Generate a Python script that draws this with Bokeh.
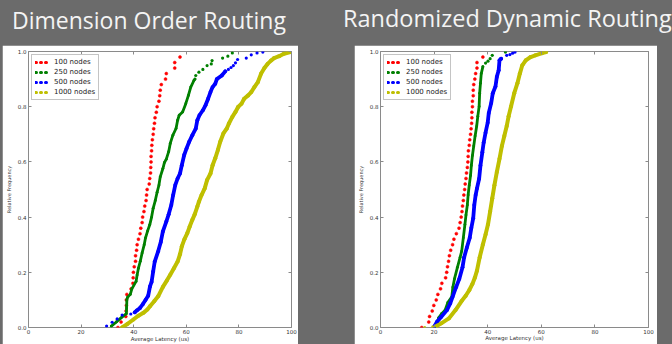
from bokeh.plotting import figure
from bokeh.models import (Range1d, FixedTicker, PrintfTickFormatter, LinearAxis,
                          Legend, LegendItem, Div, Spacer)
from bokeh.layouts import row, column
from bokeh.embed import file_html
from bokeh.resources import INLINE

# ---------------- data ----------------
TITLE_LEFT = "Dimension Order Routing"
TITLE_RIGHT = "Randomized Dynamic Routing"
SERIES = ["100 nodes", "250 nodes", "500 nodes", "1000 nodes"]
COLORS = ["#ff0000", "#008000", "#0000ff", "#bfbf00"]
X_TICKS = [0, 20, 40, 60, 80, 100]
Y_TICKS = [0.0, 0.2, 0.4, 0.6, 0.8, 1.0]
X_LABEL = "Average Latency (us)"
Y_LABEL = "Relative Frequency"

# Dimension Order Routing
dor_100_y = [0.00, 0.02, 0.04, 0.06, 0.08, 0.10, 0.12, 0.14, 0.16, 0.18, 0.20, 0.22, 0.24,
             0.26, 0.28, 0.30, 0.32, 0.34, 0.36, 0.38, 0.40, 0.42, 0.44, 0.46, 0.48, 0.50,
             0.52, 0.54, 0.56, 0.58, 0.60, 0.62, 0.64, 0.66, 0.68, 0.70, 0.72, 0.74, 0.76,
             0.78, 0.80, 0.82, 0.84, 0.86, 0.88, 0.90, 0.92, 0.94, 0.96, 0.98]
dor_100_x = [34.0, 35.2, 37.0, 37.1, 37.2, 37.2, 37.4, 39.0, 39.7, 39.8, 39.9, 40.2, 40.7,
             40.7, 41.1, 41.3, 41.8, 42.4, 42.7, 43.2, 43.4, 43.9, 44.2, 44.7, 44.9, 45.1,
             45.9, 46.1, 46.4, 46.5, 46.6, 46.6, 46.8, 46.9, 47.1, 47.4, 47.6, 47.9, 48.1,
             48.6, 48.9, 49.6, 49.9, 50.1, 50.5, 52.1, 52.4, 55.6, 55.6, 57.6]

dor_250_x = [31.5, 33.4, 35.2, 37.2, 37.3, 37.4, 37.7, 38.7, 39.3, 40.9, 41.3, 41.8, 42.5,
             43.2, 44.0, 44.5, 45.3, 46.1, 46.8, 47.4, 48.2, 48.9, 49.6, 50.1, 51.1, 51.7,
             52.4, 53.3, 53.9, 54.9, 56.1, 56.7, 57.3, 58.6, 59.8, 60.8, 61.7, 62.9, 63.3]
dor_250_y = [0.005, 0.020, 0.035, 0.050, 0.070, 0.100, 0.110, 0.120, 0.140, 0.167, 0.190,
             0.215, 0.240, 0.270, 0.300, 0.325, 0.350, 0.372, 0.400, 0.432, 0.460, 0.490,
             0.516, 0.546, 0.576, 0.598, 0.610, 0.637, 0.667, 0.697, 0.721, 0.751, 0.769,
             0.781, 0.811, 0.841, 0.871, 0.895, 0.900]
dor_250_tail_x = [63.6, 64.8, 66.3, 67.9, 69.5, 69.8, 73.8, 75.8, 77.5]
dor_250_tail_y = [0.913, 0.925, 0.935, 0.949, 0.955, 0.967, 0.976, 0.983, 0.995]

dor_500_x = [40.4, 41.2, 42.4, 43.5, 44.5, 45.5, 46.2, 46.8, 47.4, 48.0, 49.3, 50.3, 51.1,
             52.4, 53.3, 54.3, 55.0, 55.8, 56.7, 57.6, 58.3, 59.2, 60.1, 61.1, 62.3, 63.6,
             64.2, 65.0, 66.3, 67.3, 68.3, 69.2, 70.0, 71.0, 71.6, 73.5, 74.8]
dor_500_y = [0.055, 0.062, 0.071, 0.085, 0.100, 0.115, 0.149, 0.165, 0.203, 0.239, 0.276,
             0.310, 0.348, 0.384, 0.410, 0.444, 0.480, 0.516, 0.540, 0.558, 0.588, 0.625,
             0.649, 0.673, 0.697, 0.721, 0.751, 0.769, 0.787, 0.805, 0.829, 0.853, 0.871,
             0.883, 0.900, 0.913, 0.928]
dor_500_tail_x = [29.7, 31.8, 33.7, 35.6, 38.9, 76.0, 77.0, 77.9, 78.7, 79.5, 82.8, 84.7, 86.9, 89.1]
dor_500_tail_y = [0.005, 0.019, 0.031, 0.045, 0.049, 0.935, 0.942, 0.949, 0.959, 0.971, 0.976,
                  0.988, 0.995, 0.998]

dor_1000_x = [35.6, 37.5, 39.9, 41.8, 43.7, 45.2, 46.2, 47.8, 49.3, 51.1, 52.6, 53.9, 55.3,
              56.7, 57.6, 58.3, 59.3, 60.4, 61.3, 62.3, 63.2, 64.2, 64.8, 65.8, 67.0, 67.9,
              69.2, 70.0, 71.0, 72.0, 72.9, 74.1, 75.4, 76.2, 77.5, 78.7, 79.7, 81.0, 82.0,
              83.5, 84.7, 85.9, 87.2, 88.4, 89.7, 90.9, 92.2, 93.4, 95.3, 97.1, 99.6]
dor_1000_y = [0.000, 0.012, 0.029, 0.043, 0.053, 0.065, 0.077, 0.095, 0.113, 0.147, 0.170,
              0.191, 0.215, 0.239, 0.265, 0.294, 0.320, 0.342, 0.366, 0.390, 0.410, 0.438,
              0.456, 0.480, 0.504, 0.534, 0.558, 0.588, 0.613, 0.643, 0.673, 0.703, 0.721,
              0.739, 0.763, 0.781, 0.799, 0.811, 0.829, 0.841, 0.853, 0.871, 0.889, 0.919,
              0.940, 0.955, 0.967, 0.976, 0.983, 0.992, 0.998]

# Randomized Dynamic Routing
rdr_100_y = [0.00, 0.02, 0.04, 0.06, 0.08, 0.10, 0.12, 0.14, 0.16, 0.18, 0.20, 0.22, 0.24,
             0.26, 0.28, 0.30, 0.32, 0.34, 0.36, 0.38, 0.40, 0.42, 0.44, 0.46, 0.48, 0.50,
             0.52, 0.54, 0.56, 0.58, 0.60, 0.62, 0.64, 0.66, 0.68, 0.70, 0.72, 0.74, 0.76,
             0.78, 0.80, 0.82, 0.84, 0.86, 0.88, 0.90, 0.92, 0.94, 0.96, 0.98]
rdr_100_x = [15.4, 18.0, 18.3, 19.3, 19.9, 20.8, 21.4, 22.4, 22.9, 24.3, 24.7, 25.0, 25.4,
             25.7, 26.2, 26.9, 27.4, 28.3, 29.3, 29.7, 30.1, 30.4, 30.6, 30.9, 31.1, 31.4,
             31.6, 31.9, 32.1, 32.4, 32.6, 32.7, 32.8, 33.1, 33.3, 33.6, 33.8, 34.0, 34.1,
             34.1, 34.3, 34.3, 34.6, 34.6, 34.8, 35.2, 35.5, 36.0, 36.0, 38.2]

rdr_250_x = [20.1, 21.1, 21.7, 22.8, 24.1, 25.1, 26.6, 27.0, 27.6, 28.7, 29.7, 30.3, 30.9,
             31.5, 31.9, 32.4, 32.7, 33.1, 33.6, 33.9, 34.3, 34.8, 35.3, 35.9, 36.3, 36.8,
             37.0, 37.3, 37.6, 38.2]
rdr_250_y = [0.004, 0.015, 0.035, 0.050, 0.063, 0.090, 0.111, 0.146, 0.176, 0.218, 0.254,
             0.277, 0.325, 0.373, 0.408, 0.444, 0.480, 0.515, 0.551, 0.587, 0.623, 0.658,
             0.694, 0.730, 0.765, 0.801, 0.849, 0.885, 0.920, 0.945]
rdr_250_tail_x = [39.2, 40.1, 40.9, 41.7, 46.6]
rdr_250_tail_y = [0.958, 0.965, 0.974, 0.986, 0.998]

rdr_500_x = [20.1, 21.1, 22.7, 24.8, 26.0, 26.9, 28.2, 29.4, 30.6, 31.2, 32.2, 33.3, 33.9,
             34.6, 35.0, 35.5, 36.0, 36.8, 37.3, 38.0, 38.5, 39.2, 40.0, 40.4, 41.3, 41.9,
             42.9, 43.4, 44.1, 44.4, 45.0]
rdr_500_y = [0.004, 0.021, 0.039, 0.063, 0.087, 0.111, 0.146, 0.176, 0.218, 0.254, 0.289,
             0.325, 0.361, 0.396, 0.444, 0.480, 0.504, 0.539, 0.587, 0.635, 0.670, 0.706,
             0.742, 0.777, 0.813, 0.849, 0.873, 0.908, 0.932, 0.968, 0.974]
rdr_500_tail_x = [47.1, 48.3, 49.3, 50.2]
rdr_500_tail_y = [0.986, 0.989, 0.994, 0.998]

rdr_1000_x = [21.1, 22.7, 25.5, 28.0, 30.2, 31.8, 33.1, 34.3, 35.2, 36.0, 37.0, 38.2, 39.2,
              40.1, 40.9, 41.7, 42.5, 43.4, 44.4, 45.3, 46.2, 47.1, 47.8, 48.7, 49.9, 51.1,
              52.0, 52.9, 54.2, 56.0, 57.8, 60.3, 61.8]
rdr_1000_y = [0.006, 0.015, 0.033, 0.063, 0.095, 0.115, 0.135, 0.158, 0.180, 0.206, 0.254,
              0.301, 0.337, 0.373, 0.420, 0.468, 0.515, 0.563, 0.611, 0.658, 0.694, 0.730,
              0.765, 0.801, 0.849, 0.885, 0.920, 0.950, 0.968, 0.980, 0.986, 0.994, 0.998]
rdr_1000_tail_x = [16.5, 19.5]
rdr_1000_tail_y = [0.000, 0.002]

# ---------------- styling ----------------
BG = "#6b6b6b"
SPINE = "#8a8a8a"
TXT = "#333333"
FONT = "DejaVu Sans"
NAN = float("nan")


def make_panel(width, height, borders, bottom_standoffs, data):
    left, right, top, bottom = borders
    p = figure(width=width, height=height, x_range=Range1d(0, 100), y_range=Range1d(0, 1),
               output_backend="svg", toolbar_location=None,
               min_border_left=left, min_border_right=right,
               min_border_top=top, min_border_bottom=bottom)
    p.background_fill_color = "white"
    p.border_fill_color = "white"
    p.outline_line_color = SPINE
    p.outline_line_width = 1
    p.grid.visible = False

    p.xaxis.ticker = FixedTicker(ticks=X_TICKS)
    p.yaxis.ticker = FixedTicker(ticks=Y_TICKS)
    p.xaxis.formatter = PrintfTickFormatter(format="%d")
    p.yaxis.formatter = PrintfTickFormatter(format="%.1f")
    p.xaxis.axis_label = X_LABEL
    p.yaxis.axis_label = Y_LABEL
    for ax in (p.xaxis[0], p.yaxis[0]):
        ax.axis_line_color = None
        ax.major_tick_in = 3
        ax.major_tick_out = 0
        ax.major_tick_line_color = SPINE
        ax.minor_tick_line_color = None
        ax.major_label_text_font = FONT
        ax.major_label_text_font_size = "5.5px"
        ax.major_label_text_color = TXT
        ax.axis_label_text_font = FONT
        ax.axis_label_text_font_style = "normal"
        ax.axis_label_text_color = TXT
    p.xaxis.axis_label_text_font_size = "5.5px"
    p.yaxis.axis_label_text_font_size = "5px"
    p.xaxis.major_label_standoff = bottom_standoffs[0]
    p.xaxis.axis_label_standoff = bottom_standoffs[1]
    p.yaxis.major_label_standoff = 2
    p.yaxis.axis_label_standoff = 3

    # inward ticks on top and right spines, no labels
    for place, ticks in (("above", X_TICKS), ("right", Y_TICKS)):
        ax = LinearAxis(ticker=FixedTicker(ticks=ticks), axis_line_color=None,
                        major_tick_in=3, major_tick_out=0, major_tick_line_color=SPINE,
                        minor_tick_line_color=None, major_label_standoff=0,
                        major_label_text_font_size="1px",
                        major_label_overrides={t: "" for t in ticks})
        p.add_layout(ax, place)

    items = []
    for i, (name, color) in enumerate(zip(SERIES, COLORS)):
        s = data[i]
        if i == 0:
            p.scatter(s["x"], s["y"], size=3.0, marker="circle",
                      fill_color=color, line_color=color, line_width=0.5)
        else:
            w = [2.8, 3.8, 4.0][i - 1]
            p.line(s["x"], s["y"], line_color=color, line_width=w, line_join="round",
                   line_cap="round")
            p.scatter(s["x"], s["y"], size=w, marker="circle",
                      fill_color=color, line_color=None)
            if s.get("tx"):
                p.scatter(s["tx"], s["ty"], size=3.2, marker="circle",
                          fill_color=color, line_color=None)
        # legend proxy: one NaN point (draws nothing), dotted line gives three dots
        proxy = p.line(x=[NAN], y=[NAN], line_color=color, line_width=3, line_dash="1 4",
                       line_cap="round")
        items.append(LegendItem(label=name, renderers=[proxy]))

    legend = Legend(items=items, location="top_left", margin=3, padding=3, spacing=2,
                    glyph_width=14, glyph_height=8, label_height=8, label_standoff=5,
                    label_text_font=FONT, label_text_font_size="7px",
                    label_text_color="#222222", border_line_color=SPINE,
                    border_line_width=1, background_fill_color="white",
                    background_fill_alpha=1.0)
    p.add_layout(legend)
    return p


left_data = [
    {"x": dor_100_x, "y": dor_100_y},
    {"x": dor_250_x, "y": dor_250_y, "tx": dor_250_tail_x, "ty": dor_250_tail_y},
    {"x": dor_500_x, "y": dor_500_y, "tx": dor_500_tail_x, "ty": dor_500_tail_y},
    {"x": dor_1000_x, "y": dor_1000_y},
]
right_data = [
    {"x": rdr_100_x, "y": rdr_100_y},
    {"x": rdr_250_x, "y": rdr_250_y, "tx": rdr_250_tail_x, "ty": rdr_250_tail_y},
    {"x": rdr_500_x, "y": rdr_500_y, "tx": rdr_500_tail_x, "ty": rdr_500_tail_y},
    {"x": rdr_1000_x, "y": rdr_1000_y, "tx": rdr_1000_tail_x, "ty": rdr_1000_tail_y},
]

p1 = make_panel(296, 299, (21, 7, 6, 16), (1, -1), left_data)
p2 = make_panel(303, 299, (22, 9, 6, 13), (1, -2), right_data)

TSTYLE = ("font-family:'Open Sans',Lato,sans-serif;font-weight:400;"
          "color:#f4f4f4;white-space:nowrap;")
div_l = Div(text=(f'<div style="{TSTYLE}font-size:23px;line-height:23px;'
                  f'padding:9px 0 0 12px;">{TITLE_LEFT}</div>'),
            width=336, height=45, margin=0)
div_r = Div(text=(f'<div style="{TSTYLE}font-size:23.5px;line-height:23px;'
                  f'padding:7px 0 0 7px;">{TITLE_RIGHT}</div>'),
            width=336, height=45, margin=0)

top = row(div_l, div_r, spacing=0)
bottom = row(Spacer(width=2, height=299, margin=0), p1,
             Spacer(width=56, height=299, margin=0), p2, spacing=0)
page = column(top, bottom, spacing=0)

html = file_html(page, INLINE, title="Routing latency")
style = ("<style>html,body{margin:0;padding:0;background:%s;overflow:hidden;}</style>" % BG)
html = html.replace("</head>", style + "</head>", 1)
open("out.html", "w").write(html)
